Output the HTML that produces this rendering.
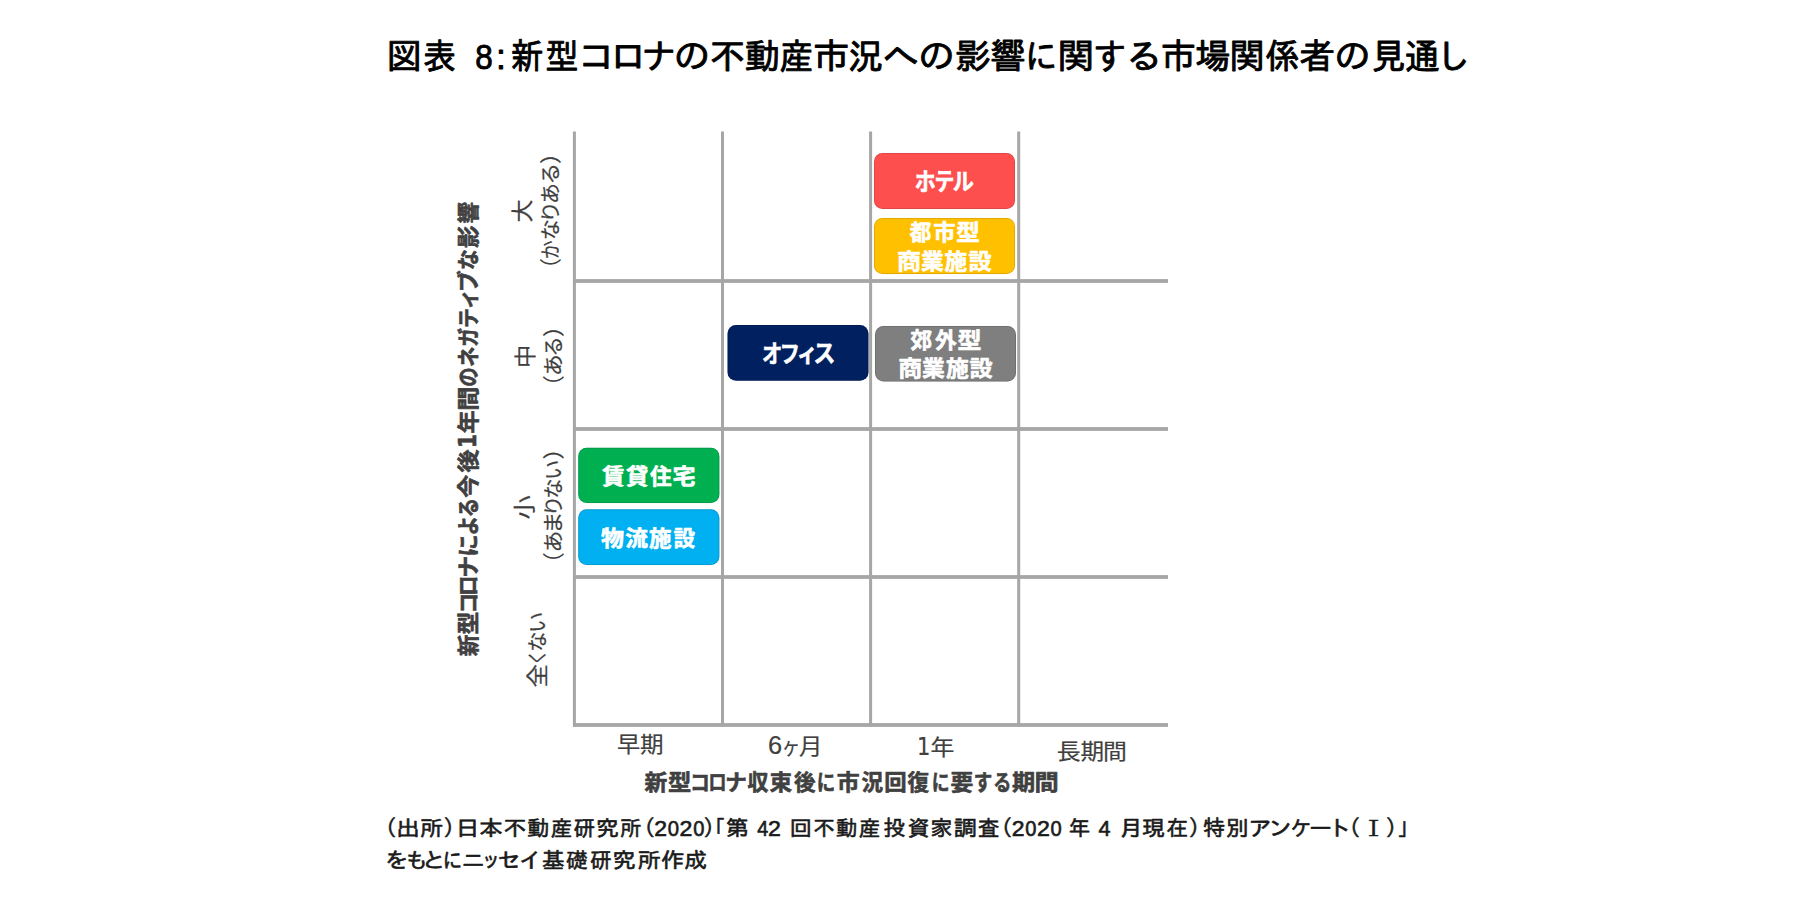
<!DOCTYPE html>
<html lang="ja">
<head>
<meta charset="utf-8">
<title>図表 8</title>
<style>
html,body{margin:0;padding:0;background:#ffffff;}
body{width:1794px;height:911px;overflow:hidden;}
svg{display:block;}
text{white-space:pre;}
.g{font-family:"Liberation Sans","IPAGothic",sans-serif;font-weight:400;}
.c{font-family:"Liberation Sans","Noto Sans CJK JP",sans-serif;font-weight:400;}
.cb{font-family:"Liberation Sans","Noto Sans CJK JP",sans-serif;font-weight:700;}
</style>
</head>
<body>
<svg width="1794" height="911" viewBox="0 0 1794 911">
<rect x="0" y="0" width="1794" height="911" fill="#ffffff"/>
<rect x="572.9" y="131.5" width="3" height="595" fill="#a6a6a6"/>
<rect x="721.0" y="131.5" width="3" height="595" fill="#a6a6a6"/>
<rect x="869.1" y="131.5" width="3" height="595" fill="#a6a6a6"/>
<rect x="1017.2" y="131.5" width="3" height="595" fill="#a6a6a6"/>
<rect x="573" y="279.1" width="595" height="3.8" fill="#a6a6a6"/>
<rect x="573" y="427.1" width="595" height="3.8" fill="#a6a6a6"/>
<rect x="573" y="575.1" width="595" height="3.8" fill="#a6a6a6"/>
<rect x="573" y="723.1" width="595" height="3.8" fill="#a6a6a6"/>
<rect x="874.0" y="153.0" width="141.0" height="56.0" rx="8.5" ry="8.5" fill="#fe4f4f"/>
<rect x="874.4" y="153.4" width="140.2" height="55.2" rx="8" ry="8" fill="none" stroke="#000000" stroke-opacity="0.16" stroke-width="0.8"/>
<rect x="874.0" y="218.0" width="141.0" height="56.0" rx="8.5" ry="8.5" fill="#ffc000"/>
<rect x="874.4" y="218.4" width="140.2" height="55.2" rx="8" ry="8" fill="none" stroke="#000000" stroke-opacity="0.16" stroke-width="0.8"/>
<rect x="727.5" y="325.0" width="141.0" height="55.7" rx="8.5" ry="8.5" fill="#002060"/>
<rect x="727.9" y="325.4" width="140.2" height="54.9" rx="8" ry="8" fill="none" stroke="#000000" stroke-opacity="0.16" stroke-width="0.8"/>
<rect x="875.0" y="326.0" width="141.0" height="55.6" rx="8.5" ry="8.5" fill="#7f7f7f"/>
<rect x="875.4" y="326.4" width="140.2" height="54.8" rx="8" ry="8" fill="none" stroke="#000000" stroke-opacity="0.16" stroke-width="0.8"/>
<rect x="578.2" y="447.8" width="141.2" height="55.3" rx="8.5" ry="8.5" fill="#00b050"/>
<rect x="578.6" y="448.2" width="140.4" height="54.5" rx="8" ry="8" fill="none" stroke="#000000" stroke-opacity="0.16" stroke-width="0.8"/>
<rect x="578.2" y="509.3" width="141.2" height="55.8" rx="8.5" ry="8.5" fill="#00b0f0"/>
<rect x="578.6" y="509.7" width="140.4" height="55.0" rx="8" ry="8" fill="none" stroke="#000000" stroke-opacity="0.16" stroke-width="0.8"/>
<text class="g" aria-label="図表 8:新型コロナの不動産市況への影響に関する市場関係者の見通し" y="68.9" font-size="35.5" fill="#000000" stroke="#000000" stroke-width="0.9" stroke-linejoin="round"><tspan x="386.4">図</tspan><tspan x="423.6" textLength="32.3" lengthAdjust="spacingAndGlyphs">表</tspan><tspan x="460.1"> </tspan><tspan x="475.3" textLength="17.5" lengthAdjust="spacingAndGlyphs">8</tspan><tspan x="496.1">:</tspan><tspan x="511.0" textLength="32.3" lengthAdjust="spacingAndGlyphs">新</tspan><tspan x="545.2" textLength="33.4" lengthAdjust="spacingAndGlyphs">型</tspan><tspan x="578.1" textLength="37.9" lengthAdjust="spacingAndGlyphs">コ</tspan><tspan x="610.1" textLength="36.6" lengthAdjust="spacingAndGlyphs">ロ</tspan><tspan x="641.0">ナ</tspan><tspan x="673.6" textLength="36.6" lengthAdjust="spacingAndGlyphs">の</tspan><tspan x="709.8">不</tspan><tspan x="744.5">動</tspan><tspan x="779.3" textLength="33.8" lengthAdjust="spacingAndGlyphs">産</tspan><tspan x="812.9" textLength="36.7" lengthAdjust="spacingAndGlyphs">市</tspan><tspan x="848.1">況</tspan><tspan x="882.5" textLength="36.7" lengthAdjust="spacingAndGlyphs">へ</tspan><tspan x="917.9" textLength="36.7" lengthAdjust="spacingAndGlyphs">の</tspan><tspan x="955.0">影</tspan><tspan x="990.0">響</tspan><tspan x="1024.5" textLength="33.3" lengthAdjust="spacingAndGlyphs">に</tspan><tspan x="1057.5" textLength="37.0" lengthAdjust="spacingAndGlyphs">関</tspan><tspan x="1092.9" textLength="34.0" lengthAdjust="spacingAndGlyphs">す</tspan><tspan x="1125.4" textLength="37.1" lengthAdjust="spacingAndGlyphs">る</tspan><tspan x="1160.8">市</tspan><tspan x="1195.1">場</tspan><tspan x="1229.6">関</tspan><tspan x="1264.9">係</tspan><tspan x="1299.4">者</tspan><tspan x="1334.0" textLength="36.6" lengthAdjust="spacingAndGlyphs">の</tspan><tspan x="1370.9">見</tspan><tspan x="1404.5">通</tspan><tspan x="1435.1">し</tspan></text>
<text class="g" aria-label="（出所）日本不動産研究所（2020）「第 42 回不動産投資家調査（2020 年 4 月現在）特別アンケート（Ⅰ）」" y="836.2" font-size="21.6" fill="#1a1a1a" stroke="#1a1a1a" stroke-width="0.6" stroke-linejoin="round"><tspan x="375.0">（</tspan><tspan x="395.9" textLength="24.2" lengthAdjust="spacingAndGlyphs">出</tspan><tspan x="419.7" textLength="23.3" lengthAdjust="spacingAndGlyphs">所</tspan><tspan x="443.2">）</tspan><tspan x="455.6" textLength="24.2" lengthAdjust="spacingAndGlyphs">日</tspan><tspan x="478.9" textLength="23.9" lengthAdjust="spacingAndGlyphs">本</tspan><tspan x="503.5" textLength="22.9" lengthAdjust="spacingAndGlyphs">不</tspan><tspan x="527.1" textLength="22.3" lengthAdjust="spacingAndGlyphs">動</tspan><tspan x="550.5">産</tspan><tspan x="573.6">研</tspan><tspan x="595.8" textLength="23.2" lengthAdjust="spacingAndGlyphs">究</tspan><tspan x="619.8">所</tspan><tspan x="633.6">（</tspan><tspan x="654.3" textLength="12.8" lengthAdjust="spacingAndGlyphs">2</tspan><tspan x="667.8" textLength="11.3" lengthAdjust="spacingAndGlyphs">0</tspan><tspan x="679.6" textLength="12.9" lengthAdjust="spacingAndGlyphs">2</tspan><tspan x="693.2" textLength="11.2" lengthAdjust="spacingAndGlyphs">0</tspan><tspan x="703.3">）</tspan><tspan x="703.7">「</tspan><tspan x="725.6" textLength="23.6" lengthAdjust="spacingAndGlyphs">第</tspan><tspan x="749.0"> </tspan><tspan x="757.2" textLength="11.0" lengthAdjust="spacingAndGlyphs">4</tspan><tspan x="768.0" textLength="12.9" lengthAdjust="spacingAndGlyphs">2</tspan><tspan x="782.0"> </tspan><tspan x="789.5" textLength="22.3" lengthAdjust="spacingAndGlyphs">回</tspan><tspan x="813.2">不</tspan><tspan x="835.8">動</tspan><tspan x="858.5">産</tspan><tspan x="883.5" textLength="22.4" lengthAdjust="spacingAndGlyphs">投</tspan><tspan x="907.4" textLength="22.4" lengthAdjust="spacingAndGlyphs">資</tspan><tspan x="930.2" textLength="22.4" lengthAdjust="spacingAndGlyphs">家</tspan><tspan x="953.7" textLength="23.2" lengthAdjust="spacingAndGlyphs">調</tspan><tspan x="978.1">査</tspan><tspan x="990.7">（</tspan><tspan x="1011.7" textLength="12.8" lengthAdjust="spacingAndGlyphs">2</tspan><tspan x="1025.2" textLength="11.2" lengthAdjust="spacingAndGlyphs">0</tspan><tspan x="1037.0" textLength="12.9" lengthAdjust="spacingAndGlyphs">2</tspan><tspan x="1050.6" textLength="11.2" lengthAdjust="spacingAndGlyphs">0</tspan><tspan x="1062.0"> </tspan><tspan x="1068.8">年</tspan><tspan x="1091.0"> </tspan><tspan x="1098.5">4</tspan><tspan x="1111.0"> </tspan><tspan x="1119.1" textLength="24.2" lengthAdjust="spacingAndGlyphs">月</tspan><tspan x="1142.3" textLength="23.2" lengthAdjust="spacingAndGlyphs">現</tspan><tspan x="1166.4">在</tspan><tspan x="1188.4">）</tspan><tspan x="1202.9" textLength="22.3" lengthAdjust="spacingAndGlyphs">特</tspan><tspan x="1225.7" textLength="22.9" lengthAdjust="spacingAndGlyphs">別</tspan><tspan x="1247.9" textLength="23.9" lengthAdjust="spacingAndGlyphs">ア</tspan><tspan x="1268.1" textLength="24.2" lengthAdjust="spacingAndGlyphs">ン</tspan><tspan x="1290.1">ケ</tspan><tspan x="1308.9" textLength="23.2" lengthAdjust="spacingAndGlyphs">ー</tspan><tspan x="1327.3" textLength="24.2" lengthAdjust="spacingAndGlyphs">ト</tspan><tspan x="1338.7">（</tspan><tspan x="1361.5" font-family='"Liberation Serif", "Noto Serif CJK JP", serif' textLength="24.2" lengthAdjust="spacingAndGlyphs">Ⅰ</tspan><tspan x="1385.5">）</tspan><tspan x="1397.4">」</tspan></text>
<text class="g" aria-label="をもとにニッセイ基礎研究所作成" y="868.1" font-size="21.6" fill="#1a1a1a" stroke="#1a1a1a" stroke-width="0.6" stroke-linejoin="round"><tspan x="384.5" textLength="24.2" lengthAdjust="spacingAndGlyphs">を</tspan><tspan x="405.1" textLength="23.4" lengthAdjust="spacingAndGlyphs">も</tspan><tspan x="421.7" textLength="24.2" lengthAdjust="spacingAndGlyphs">と</tspan><tspan x="442.3" textLength="20.4" lengthAdjust="spacingAndGlyphs">に</tspan><tspan x="461.6" textLength="23.6" lengthAdjust="spacingAndGlyphs">ニ</tspan><tspan x="481.6" textLength="19.2" lengthAdjust="spacingAndGlyphs">ッ</tspan><tspan x="497.2" textLength="23.6" lengthAdjust="spacingAndGlyphs">セ</tspan><tspan x="518.7" textLength="24.2" lengthAdjust="spacingAndGlyphs">イ</tspan><tspan x="542.1" textLength="23.0" lengthAdjust="spacingAndGlyphs">基</tspan><tspan x="566.6">礎</tspan><tspan x="590.1">研</tspan><tspan x="612.2" textLength="23.5" lengthAdjust="spacingAndGlyphs">究</tspan><tspan x="637.3" textLength="23.4" lengthAdjust="spacingAndGlyphs">所</tspan><tspan x="660.4" textLength="24.1" lengthAdjust="spacingAndGlyphs">作</tspan><tspan x="684.3" textLength="22.9" lengthAdjust="spacingAndGlyphs">成</tspan></text>
<text class="c" aria-label="早期" y="751.7" font-size="21.8" fill="#404040" stroke="#404040" stroke-width="0.2" stroke-linejoin="round"><tspan x="616.9" textLength="23.2" lengthAdjust="spacingAndGlyphs">早</tspan><tspan x="640.0" textLength="23.6" lengthAdjust="spacingAndGlyphs">期</tspan></text>
<text class="c" aria-label="6ヶ月" y="754.1" font-size="21.8" fill="#404040" stroke="#404040" stroke-width="0.2" stroke-linejoin="round"><tspan x="768.1" font-size="25.4">6</tspan><tspan x="781.8" textLength="18.4" lengthAdjust="spacingAndGlyphs">ヶ</tspan><tspan x="799.1" textLength="23.4" lengthAdjust="spacingAndGlyphs">月</tspan></text>
<text class="c" aria-label="1年" y="755.3" font-size="21.8" fill="#404040" stroke="#404040" stroke-width="0.2" stroke-linejoin="round"><tspan x="916.9" font-size="25.0" font-family='"DejaVu Sans", "Liberation Sans", sans-serif' textLength="13.4" lengthAdjust="spacingAndGlyphs">1</tspan><tspan x="930.4" textLength="23.9" lengthAdjust="spacingAndGlyphs">年</tspan></text>
<text class="c" aria-label="長期間" y="759.3" font-size="21.8" fill="#404040" stroke="#404040" stroke-width="0.2" stroke-linejoin="round"><tspan x="1056.7" textLength="23.9" lengthAdjust="spacingAndGlyphs">長</tspan><tspan x="1080.4" textLength="23.6" lengthAdjust="spacingAndGlyphs">期</tspan><tspan x="1103.1" textLength="23.9" lengthAdjust="spacingAndGlyphs">間</tspan></text>
<text class="cb" aria-label="新型コロナ収束後に市況回復に要する期間" y="790.4" font-size="21.6" fill="#404040" stroke="#404040" stroke-width="0.6" stroke-linejoin="round"><tspan x="644.5" textLength="22.8" lengthAdjust="spacingAndGlyphs">新</tspan><tspan x="668.1" textLength="23.3" lengthAdjust="spacingAndGlyphs">型</tspan><tspan x="689.9" textLength="20.0" lengthAdjust="spacingAndGlyphs">コ</tspan><tspan x="708.2" textLength="18.4" lengthAdjust="spacingAndGlyphs">ロ</tspan><tspan x="725.3">ナ</tspan><tspan x="747.6" textLength="20.9" lengthAdjust="spacingAndGlyphs">収</tspan><tspan x="769.6" textLength="22.7" lengthAdjust="spacingAndGlyphs">束</tspan><tspan x="793.9">後</tspan><tspan x="816.7" textLength="18.5" lengthAdjust="spacingAndGlyphs">に</tspan><tspan x="836.7" textLength="22.9" lengthAdjust="spacingAndGlyphs">市</tspan><tspan x="861.6">況</tspan><tspan x="884.2" textLength="22.4" lengthAdjust="spacingAndGlyphs">回</tspan><tspan x="907.6">復</tspan><tspan x="931.7" textLength="17.8" lengthAdjust="spacingAndGlyphs">に</tspan><tspan x="950.5" textLength="22.8" lengthAdjust="spacingAndGlyphs">要</tspan><tspan x="973.7" textLength="18.5" lengthAdjust="spacingAndGlyphs">す</tspan><tspan x="993.3" textLength="18.1" lengthAdjust="spacingAndGlyphs">る</tspan><tspan x="1012.1" textLength="23.2" lengthAdjust="spacingAndGlyphs">期</tspan><tspan x="1034.5" textLength="24.2" lengthAdjust="spacingAndGlyphs">間</tspan></text>
<text class="cb" aria-label="ホテル" y="190.2" font-size="23.4" fill="#ffffff" stroke="#ffffff" stroke-width="0.6" stroke-linejoin="round"><tspan x="914.8" textLength="20.9" lengthAdjust="spacingAndGlyphs">ホ</tspan><tspan x="934.4" textLength="19.8" lengthAdjust="spacingAndGlyphs">テ</tspan><tspan x="952.7" textLength="21.1" lengthAdjust="spacingAndGlyphs">ル</tspan></text>
<text class="cb" aria-label="都市型" y="240.4" font-size="21.6" fill="#ffffff" stroke="#ffffff" stroke-width="0.6" stroke-linejoin="round"><tspan x="909.7">都</tspan><tspan x="933.2" textLength="22.4" lengthAdjust="spacingAndGlyphs">市</tspan><tspan x="956.3" textLength="23.6" lengthAdjust="spacingAndGlyphs">型</tspan></text>
<text class="cb" aria-label="商業施設" y="269.1" font-size="21.6" fill="#ffffff" stroke="#ffffff" stroke-width="0.6" stroke-linejoin="round"><tspan x="897.1" textLength="24.1" lengthAdjust="spacingAndGlyphs">商</tspan><tspan x="921.0" textLength="22.8" lengthAdjust="spacingAndGlyphs">業</tspan><tspan x="944.5" textLength="22.8" lengthAdjust="spacingAndGlyphs">施</tspan><tspan x="968.4" textLength="23.2" lengthAdjust="spacingAndGlyphs">設</tspan></text>
<text class="cb" aria-label="オフィス" y="361.6" font-size="23.4" fill="#ffffff" stroke="#ffffff" stroke-width="0.6" stroke-linejoin="round"><tspan x="762.1" textLength="20.3" lengthAdjust="spacingAndGlyphs">オ</tspan><tspan x="779.8" textLength="20.1" lengthAdjust="spacingAndGlyphs">フ</tspan><tspan x="796.9" textLength="20.4" lengthAdjust="spacingAndGlyphs">ィ</tspan><tspan x="813.5" textLength="21.8" lengthAdjust="spacingAndGlyphs">ス</tspan></text>
<text class="cb" aria-label="郊外型" y="348.3" font-size="21.6" fill="#ffffff" stroke="#ffffff" stroke-width="0.6" stroke-linejoin="round"><tspan x="910.6">郊</tspan><tspan x="934.9">外</tspan><tspan x="957.4" textLength="24.0" lengthAdjust="spacingAndGlyphs">型</tspan></text>
<text class="cb" aria-label="商業施設" y="376.1" font-size="21.6" fill="#ffffff" stroke="#ffffff" stroke-width="0.6" stroke-linejoin="round"><tspan x="898.2" textLength="23.9" lengthAdjust="spacingAndGlyphs">商</tspan><tspan x="922.1" textLength="22.8" lengthAdjust="spacingAndGlyphs">業</tspan><tspan x="945.9" textLength="22.9" lengthAdjust="spacingAndGlyphs">施</tspan><tspan x="969.5" textLength="23.2" lengthAdjust="spacingAndGlyphs">設</tspan></text>
<text class="cb" aria-label="賃貸住宅" y="484.3" font-size="21.6" fill="#ffffff" stroke="#ffffff" stroke-width="0.6" stroke-linejoin="round"><tspan x="602.1" textLength="22.6" lengthAdjust="spacingAndGlyphs">賃</tspan><tspan x="626.0" textLength="22.3" lengthAdjust="spacingAndGlyphs">貸</tspan><tspan x="650.0">住</tspan><tspan x="672.5" textLength="23.1" lengthAdjust="spacingAndGlyphs">宅</tspan></text>
<text class="cb" aria-label="物流施設" y="546.0" font-size="21.6" fill="#ffffff" stroke="#ffffff" stroke-width="0.6" stroke-linejoin="round"><tspan x="601.1" textLength="23.0" lengthAdjust="spacingAndGlyphs">物</tspan><tspan x="625.3" textLength="22.6" lengthAdjust="spacingAndGlyphs">流</tspan><tspan x="649.0" textLength="22.6" lengthAdjust="spacingAndGlyphs">施</tspan><tspan x="673.5">設</tspan></text>
<text class="cb" aria-label="新型コロナによる今後1年間のネガティブな影響" y="476.3" font-size="21.6" fill="#404040" transform="rotate(-90)" stroke="#404040" stroke-width="0.6" stroke-linejoin="round"><tspan x="-656.3">新</tspan><tspan x="-634.4" textLength="22.9" lengthAdjust="spacingAndGlyphs">型</tspan><tspan x="-613.5" textLength="20.6" lengthAdjust="spacingAndGlyphs">コ</tspan><tspan x="-596.1" textLength="20.6" lengthAdjust="spacingAndGlyphs">ロ</tspan><tspan x="-577.4">ナ</tspan><tspan x="-556.7" textLength="22.3" lengthAdjust="spacingAndGlyphs">に</tspan><tspan x="-535.4" textLength="19.8" lengthAdjust="spacingAndGlyphs">よ</tspan><tspan x="-517.2" textLength="19.4" lengthAdjust="spacingAndGlyphs">る</tspan><tspan x="-497.7" textLength="23.1" lengthAdjust="spacingAndGlyphs">今</tspan><tspan x="-472.6" textLength="23.1" lengthAdjust="spacingAndGlyphs">後</tspan><tspan x="-448.1" font-size="24.5" font-family='"DejaVu Sans", "Liberation Sans", sans-serif' textLength="13.9" lengthAdjust="spacingAndGlyphs">1</tspan><tspan x="-433.4" textLength="23.1" lengthAdjust="spacingAndGlyphs">年</tspan><tspan x="-410.7" textLength="24.2" lengthAdjust="spacingAndGlyphs">間</tspan><tspan x="-386.8" textLength="19.5" lengthAdjust="spacingAndGlyphs">の</tspan><tspan x="-366.8" textLength="20.1" lengthAdjust="spacingAndGlyphs">ネ</tspan><tspan x="-346.7" textLength="19.0" lengthAdjust="spacingAndGlyphs">ガ</tspan><tspan x="-328.0" textLength="20.0" lengthAdjust="spacingAndGlyphs">テ</tspan><tspan x="-309.3" textLength="20.3" lengthAdjust="spacingAndGlyphs">ィ</tspan><tspan x="-292.0">ブ</tspan><tspan x="-270.1" textLength="20.8" lengthAdjust="spacingAndGlyphs">な</tspan><tspan x="-248.0" textLength="22.4" lengthAdjust="spacingAndGlyphs">影</tspan><tspan x="-223.4">響</tspan></text>
<text class="c" aria-label="大" y="529.6" font-size="21.8" fill="#404040" transform="rotate(-90)" stroke="#404040" stroke-width="0.2" stroke-linejoin="round"><tspan x="-222.5" textLength="23.1" lengthAdjust="spacingAndGlyphs">大</tspan></text>
<text class="c" aria-label="（かなりある）" y="558.2" font-size="21.8" fill="#404040" transform="rotate(-90)" stroke="#404040" stroke-width="0.2" stroke-linejoin="round"><tspan x="-279.7">（</tspan><tspan x="-259.2" font-size="20.4" y="557.6" textLength="18.9" lengthAdjust="spacingAndGlyphs">か</tspan><tspan x="-240.3" font-size="20.4" y="557.6" textLength="21.1" lengthAdjust="spacingAndGlyphs">な</tspan><tspan x="-223.0" font-size="20.4" y="557.6" textLength="22.2" lengthAdjust="spacingAndGlyphs">り</tspan><tspan x="-204.0" font-size="20.4" y="557.6" textLength="21.0" lengthAdjust="spacingAndGlyphs">あ</tspan><tspan x="-184.7" font-size="20.4" y="557.6" textLength="22.0" lengthAdjust="spacingAndGlyphs">る</tspan><tspan x="-163.9">）</tspan></text>
<text class="c" aria-label="中" y="532.6" font-size="21.8" fill="#404040" transform="rotate(-90)" stroke="#404040" stroke-width="0.2" stroke-linejoin="round"><tspan x="-367.9" textLength="23.3" lengthAdjust="spacingAndGlyphs">中</tspan></text>
<text class="c" aria-label="（ある）" y="561.1" font-size="21.8" fill="#404040" transform="rotate(-90)" stroke="#404040" stroke-width="0.2" stroke-linejoin="round"><tspan x="-396.9">（</tspan><tspan x="-375.9" font-size="20.4" y="560.5" textLength="21.8" lengthAdjust="spacingAndGlyphs">あ</tspan><tspan x="-356.8" font-size="20.4" y="560.5">る</tspan><tspan x="-337.1">）</tspan></text>
<text class="c" aria-label="小" y="532.3" font-size="21.8" fill="#404040" transform="rotate(-90)" stroke="#404040" stroke-width="0.2" stroke-linejoin="round"><tspan x="-519.6" textLength="24.2" lengthAdjust="spacingAndGlyphs">小</tspan></text>
<text class="c" aria-label="（あまりない）" y="561.1" font-size="21.8" fill="#404040" transform="rotate(-90)" stroke="#404040" stroke-width="0.2" stroke-linejoin="round"><tspan x="-574.1">（</tspan><tspan x="-552.5" font-size="20.4" y="560.5" textLength="21.9" lengthAdjust="spacingAndGlyphs">あ</tspan><tspan x="-533.9" font-size="20.4" y="560.5" textLength="22.5" lengthAdjust="spacingAndGlyphs">ま</tspan><tspan x="-516.5" font-size="20.4" y="560.5" textLength="21.1" lengthAdjust="spacingAndGlyphs">り</tspan><tspan x="-498.7" font-size="20.4" y="560.5">な</tspan><tspan x="-480.1" font-size="20.4" y="560.5">い</tspan><tspan x="-459.6">）</tspan></text>
<text class="c" aria-label="全くない" y="545.1" font-size="21.8" fill="#404040" transform="rotate(-90)" stroke="#404040" stroke-width="0.2" stroke-linejoin="round"><tspan x="-687.4" textLength="23.4" lengthAdjust="spacingAndGlyphs">全</tspan><tspan x="-665.3" font-size="20.4" y="544.6" textLength="15.6" lengthAdjust="spacingAndGlyphs">く</tspan><tspan x="-651.7" font-size="20.4" y="544.6">な</tspan><tspan x="-632.9" font-size="20.4" y="544.6" textLength="21.3" lengthAdjust="spacingAndGlyphs">い</tspan></text>
</svg>
</body>
</html>
